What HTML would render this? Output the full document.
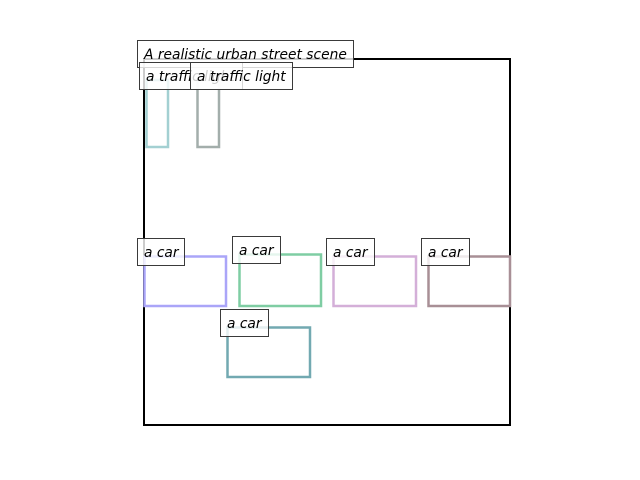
<!DOCTYPE html>
<html><head><style>body{margin:0;background:#fff}svg{display:block}text{font-family:"DejaVu Sans","Liberation Sans",sans-serif;font-style:italic;font-size:13.8px;fill:#000}</style></head>
<body>
<svg width="640" height="480" viewBox="0 0 640 480" xmlns="http://www.w3.org/2000/svg">
<rect x="144" y="59" width="366" height="366" fill="none" stroke="#000" stroke-width="2"/>
<g fill="none" stroke-width="2.5">
<rect x="146.5" y="80" width="21.5" height="67" stroke="#a3d0d2"/>
<rect x="197.5" y="80" width="21.5" height="67" stroke="#a3aeab"/>
<rect x="144.5" y="256.5" width="81.5" height="49.5" stroke="#aaa5f8"/>
<rect x="239.5" y="254.5" width="81.5" height="51.5" stroke="#7fcda3"/>
<rect x="333.5" y="256.5" width="82.5" height="49.5" stroke="#d4afd8"/>
<rect x="428.5" y="256.5" width="81.5" height="49.5" stroke="#a88f96"/>
<rect x="227.5" y="327.5" width="82.5" height="49.5" stroke="#72a9b1"/>
</g>
<rect x="137.5" y="40.5" width="216" height="27" fill="#fff" fill-opacity="0.8" stroke="#3a3a3a"/>
<text x="144" y="59">A realistic urban street scene</text>
<rect x="139.5" y="62.5" width="103" height="27" fill="#fff" fill-opacity="0.8" stroke="#3a3a3a"/>
<text x="146" y="81">a traffic light</text>
<rect x="190.5" y="62.5" width="102" height="27" fill="#fff" fill-opacity="0.8" stroke="#3a3a3a"/>
<text x="197" y="81">a traffic light</text>
<g fill="#fff" fill-opacity="0.8" stroke="#3a3a3a">
<rect x="137.5" y="238.5" width="47" height="27"/>
<rect x="232.5" y="236.5" width="48" height="27"/>
<rect x="326.5" y="238.5" width="48" height="27"/>
<rect x="421.5" y="238.5" width="48" height="27"/>
<rect x="220.5" y="309.5" width="48" height="27"/>
</g>
<text x="144" y="257">a car</text>
<text x="239" y="255">a car</text>
<text x="333" y="257">a car</text>
<text x="428" y="257">a car</text>
<text x="227" y="328">a car</text>
</svg>
</body></html>
